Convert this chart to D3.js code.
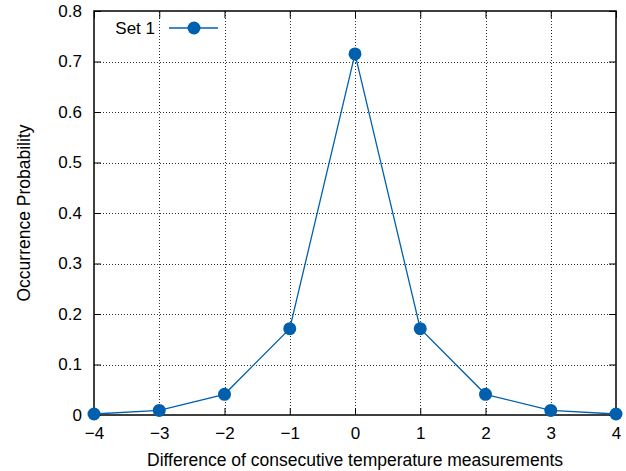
<!DOCTYPE html>
<html>
<head>
<meta charset="utf-8">
<script src="https://cdn.jsdelivr.net/npm/d3@7"></script>
<style>
  html, body { margin: 0; padding: 0; background: #fff; }
  svg { display: block; }
  text { font-family: "Liberation Sans", Arial, Helvetica, sans-serif; fill: #000; }
</style>
</head>
<body>
<svg id="chart" width="626" height="471"></svg>
<script>
// Differences between consecutive temperature readings and their probabilities
const differences = [-4, -3, -2, -1, 0, 1, 2, 3, 4];
const probabilities = [0.002, 0.009, 0.041, 0.171, 0.715, 0.171, 0.041, 0.009, 0.002];
const xTicks = [-4, -3, -2, -1, 0, 1, 2, 3, 4];
const yTicks = [0, 0.1, 0.2, 0.3, 0.4, 0.5, 0.6, 0.7, 0.8];
const seriesName = "Set 1";
const xTitle = "Difference of consecutive temperature measurements";
const yTitle = "Occurrence Probability";

const W = 626, H = 471;
const margin = { left: 94, right: 10, top: 11, bottom: 56 };
const color = "#0060ad";
const tickFont = 17, titleFont = 17.5;

const svg = d3.select("#chart");
const x = d3.scaleLinear().domain([-4, 4]).range([margin.left, W - margin.right]);
const y = d3.scaleLinear().domain([0, 0.8]).range([H - margin.bottom, margin.top]);

const fmtX = d => (d < 0 ? "\u2212" + Math.abs(d) : String(d));
const fmtY = d => (d === 0 ? "0" : d3.format(".1f")(d));

// dotted grid
const grid = svg.append("g").attr("stroke", "#333").attr("stroke-width", 1)
  .attr("stroke-dasharray", "1,2");
grid.selectAll("line.gx").data(xTicks.slice(1, -1)).join("line")
  .attr("class", "gx")
  .attr("x1", d => Math.round(x(d)) + 0.5).attr("x2", d => Math.round(x(d)) + 0.5)
  .attr("y1", y(0)).attr("y2", y(0.8));
grid.selectAll("line.gy").data(yTicks.slice(1, -1)).join("line")
  .attr("class", "gy")
  .attr("x1", x(-4)).attr("x2", x(4))
  .attr("y1", d => Math.round(y(d)) + 0.5).attr("y2", d => Math.round(y(d)) + 0.5);

// axes: labels outside, inward ticks mirrored on all sides
const tickLen = 7;
const xAxis = svg.append("g").attr("transform", `translate(0,${y(0)})`)
  .call(d3.axisBottom(x).tickValues(xTicks).tickFormat(fmtX).tickSize(-tickLen).tickPadding(12));
const xAxisTop = svg.append("g").attr("transform", `translate(0,${y(0.8)})`)
  .call(d3.axisTop(x).tickValues(xTicks).tickFormat("").tickSize(-tickLen));
const yAxis = svg.append("g").attr("transform", `translate(${x(-4)},0)`)
  .call(d3.axisLeft(y).tickValues(yTicks).tickFormat(fmtY).tickSize(-tickLen).tickPadding(12));
const yAxisRight = svg.append("g").attr("transform", `translate(${x(4)},0)`)
  .call(d3.axisRight(y).tickValues(yTicks).tickFormat("").tickSize(-tickLen));

[xAxis, xAxisTop, yAxis, yAxisRight].forEach(g => {
  g.select(".domain").remove();
  g.selectAll(".tick line").attr("stroke", "#000").attr("stroke-width", 1);
  g.selectAll("text").attr("font-size", tickFont)
    .attr("font-family", "Liberation Sans, Arial, sans-serif");
});

// frame
svg.append("rect")
  .attr("x", x(-4)).attr("y", y(0.8))
  .attr("width", x(4) - x(-4)).attr("height", y(0) - y(0.8))
  .attr("fill", "none").attr("stroke", "#000").attr("stroke-width", 1.5);

// data line and markers
const line = d3.line().x((d, i) => x(differences[i])).y(d => y(d));
svg.append("path").datum(probabilities)
  .attr("d", line).attr("fill", "none").attr("stroke", color).attr("stroke-width", 1.3);
svg.selectAll("circle.pt").data(probabilities).join("circle")
  .attr("class", "pt")
  .attr("cx", (d, i) => x(differences[i])).attr("cy", d => y(d))
  .attr("r", 6.5).attr("fill", color);

// legend
const lg = svg.append("g");
lg.append("text").attr("x", 155).attr("y", 33.5).attr("text-anchor", "end")
  .attr("font-size", tickFont).text(seriesName);
lg.append("line").attr("x1", 169).attr("x2", 218).attr("y1", 28).attr("y2", 28)
  .attr("stroke", color).attr("stroke-width", 1.3);
lg.append("circle").attr("cx", 194).attr("cy", 28).attr("r", 6.5).attr("fill", color);

// titles
svg.append("text").attr("x", (x(-4) + x(4)) / 2).attr("y", 466)
  .attr("text-anchor", "middle").attr("font-size", titleFont).text(xTitle);
svg.append("text").attr("transform", `translate(30,${(y(0) + y(0.8)) / 2}) rotate(-90)`)
  .attr("text-anchor", "middle").attr("font-size", titleFont).text(yTitle);
</script>
</body>
</html>
